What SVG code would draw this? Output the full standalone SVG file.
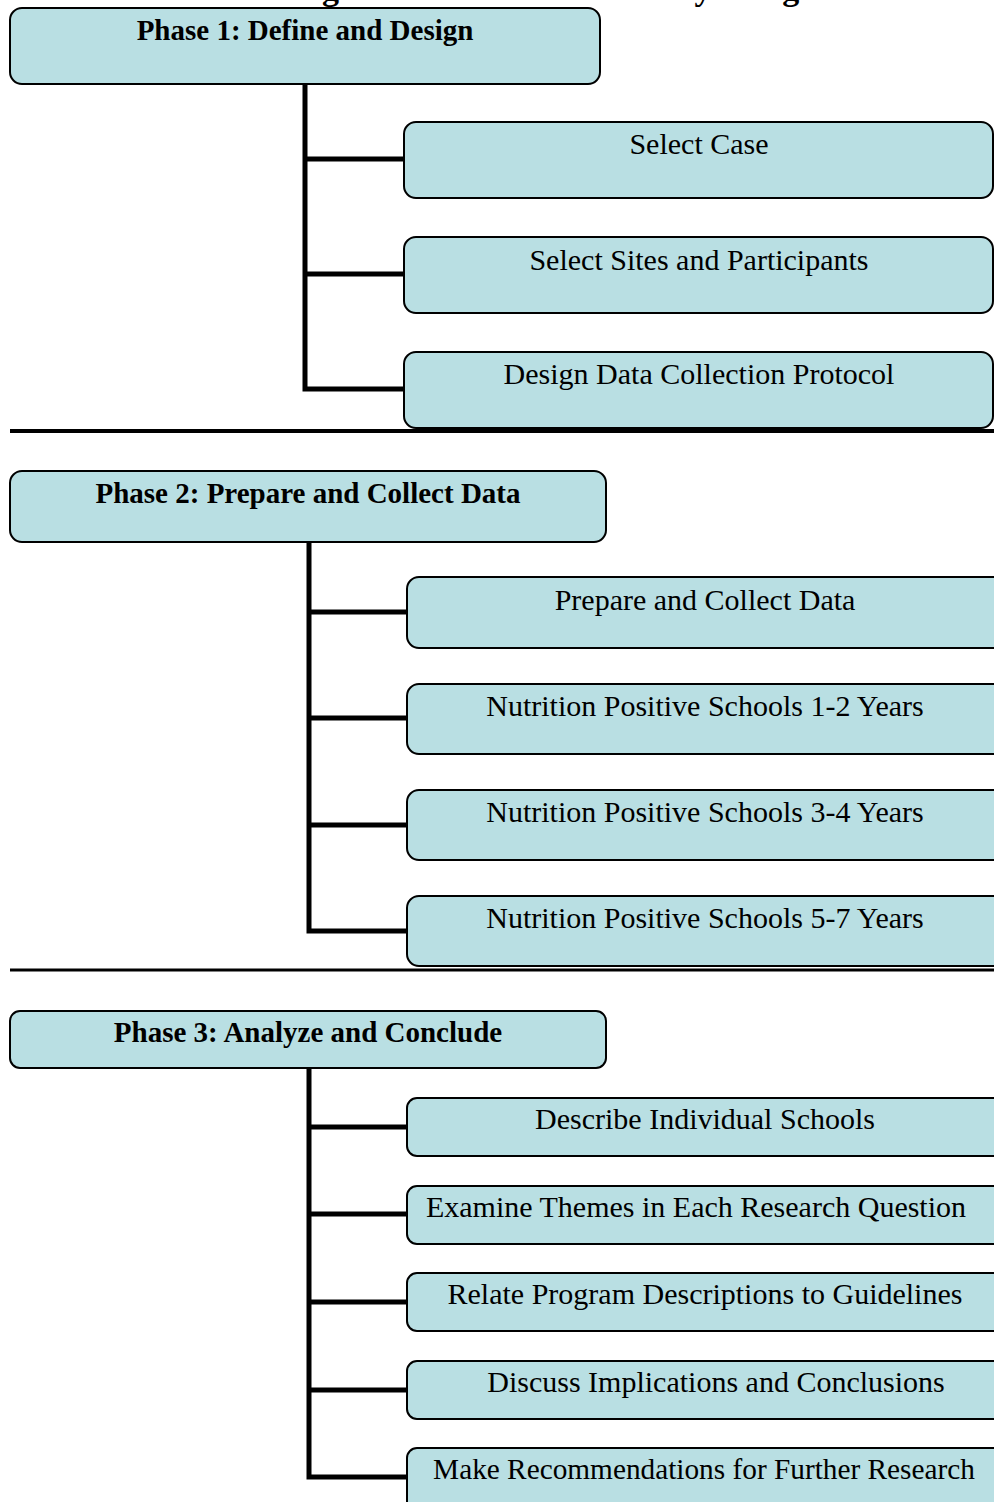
<svg xmlns="http://www.w3.org/2000/svg" width="994" height="1502" viewBox="0 0 994 1502">
<style>
.box{fill:#b9dfe3;stroke:#000;stroke-width:2}
.ph{font-family:"Liberation Serif","Times New Roman",serif;font-weight:bold;font-size:29px;text-anchor:middle;fill:#000}
.ch{font-family:"Liberation Serif","Times New Roman",serif;font-size:30px;text-anchor:middle;fill:#000}
.tt{font-family:"Liberation Serif","Times New Roman",serif;font-weight:bold;font-size:34px;text-anchor:middle;fill:#000}
.con{fill:none;stroke:#000;stroke-width:5}
.sep{stroke:#000;stroke-width:4}
</style>
<rect width="994" height="1502" fill="#fff"/>
<text class="tt" x="555" y="0">Figure 2. Overall Case Study Design</text>
<g id="connectors">
<path class="con" d="M305,84 V389 H404 M305,159 H404 M305,274 H404"/>
<path class="con" d="M309,542 V931 H407 M309,612 H407 M309,718 H407 M309,825 H407"/>
<path class="con" d="M309,1068 V1477 H407 M309,1127 H407 M309,1214 H407 M309,1302 H407 M309,1390 H407"/>
<line class="sep" x1="10" y1="431" x2="994" y2="431"/>
<line class="sep" x1="10" y1="970" x2="994" y2="970" style="stroke-width:3"/>
</g>
<g id="phase1"><rect class="box" x="10" y="8" width="590" height="76" rx="12"/><text class="ph" x="305" y="40">Phase 1: Define and Design</text></g>
<g id="p1c1"><rect class="box" x="404" y="122" width="589" height="76" rx="12"/><text class="ch" x="699" y="154">Select Case</text></g>
<g id="p1c2"><rect class="box" x="404" y="237" width="589" height="76" rx="12"/><text class="ch" x="699" y="270">Select Sites and Participants</text></g>
<g id="p1c3"><rect class="box" x="404" y="352" width="589" height="76" rx="12"/><text class="ch" x="699" y="384">Design Data Collection Protocol</text></g>
<g id="phase2"><rect class="box" x="10" y="471" width="596" height="71" rx="12"/><text class="ph" x="308" y="503">Phase 2: Prepare and Collect Data</text></g>
<g id="p2c1"><rect class="box" x="407" y="577" width="610" height="71" rx="12"/><text class="ch" x="705" y="610">Prepare and Collect Data</text></g>
<g id="p2c2"><rect class="box" x="407" y="684" width="610" height="70" rx="12"/><text class="ch" x="705" y="716">Nutrition Positive Schools 1-2 Years</text></g>
<g id="p2c3"><rect class="box" x="407" y="790" width="610" height="70" rx="12"/><text class="ch" x="705" y="822">Nutrition Positive Schools 3-4 Years</text></g>
<g id="p2c4"><rect class="box" x="407" y="896" width="610" height="70" rx="12"/><text class="ch" x="705" y="928">Nutrition Positive Schools 5-7 Years</text></g>
<g id="phase3"><rect class="box" x="10" y="1011" width="596" height="57" rx="10"/><text class="ph" x="308" y="1042">Phase 3: Analyze and Conclude</text></g>
<g id="p3c1"><rect class="box" x="407" y="1098" width="610" height="58" rx="10"/><text class="ch" x="705" y="1129">Describe Individual Schools</text></g>
<g id="p3c2"><rect class="box" x="407" y="1186" width="610" height="58" rx="10"/><text class="ch" x="696" y="1217">Examine Themes in Each Research Question</text></g>
<g id="p3c3"><rect class="box" x="407" y="1273" width="610" height="58" rx="10"/><text class="ch" x="705" y="1304">Relate Program Descriptions to Guidelines</text></g>
<g id="p3c4"><rect class="box" x="407" y="1361" width="610" height="58" rx="10"/><text class="ch" x="716" y="1392">Discuss Implications and Conclusions</text></g>
<g id="p3c5"><rect class="box" x="407" y="1448" width="610" height="70" rx="10"/><text class="ch" x="704" y="1479" style="font-size:29.3px">Make Recommendations for Further Research</text></g>
</svg>
